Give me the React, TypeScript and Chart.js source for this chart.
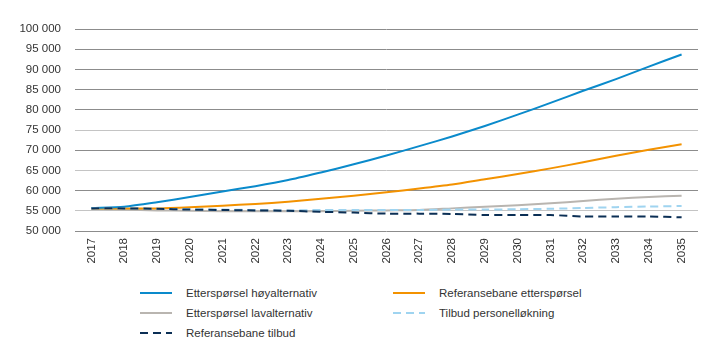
import React, { useEffect, useRef } from "react";
import { Chart, registerables } from "chart.js";

Chart.register(...registerables);

const years = ["2017","2018","2019","2020","2021","2022","2023","2024","2025","2026","2027","2028","2029","2030","2031","2032","2033","2034","2035"];
const hoyalternativ = [55700,56000,57100,58400,59800,61100,62600,64500,66500,68700,71000,73400,76000,78800,81700,84700,87600,90700,93700];
const referanseEttersporsel = [55600,55600,55600,55870,56260,56700,57250,58000,58700,59600,60500,61500,62800,64100,65500,67000,68600,70100,71500];
const lavalternativ = [55500,55300,55100,55000,54900,54900,54900,54900,55000,55100,55200,55600,56000,56400,56850,57400,58000,58400,58750];
const tilbudPersonell = [55600,55600,55500,55400,55300,55200,55100,55200,55200,55200,55200,55300,55300,55400,55500,55700,55900,56050,56200];
const referanseTilbud = [55600,55600,55500,55300,55200,55100,55000,54750,54550,54300,54300,54200,53950,53950,53950,53600,53600,53600,53400];
const yTicks = [50000,55000,60000,65000,70000,75000,80000,85000,90000,95000,100000];

const FONT = "'Liberation Sans', Arial, sans-serif";
const TEXT = "#333333";

const series = [
  { label: "Etterspørsel høyalternativ", data: hoyalternativ, color: "#0a8acb", dash: [] as number[], order: 2 },
  { label: "Referansebane etterspørsel", data: referanseEttersporsel, color: "#f39200", dash: [] as number[], order: 3 },
  { label: "Etterspørsel lavalternativ", data: lavalternativ, color: "#b9b5b0", dash: [] as number[], order: 4 },
  { label: "Tilbud personelløkning", data: tilbudPersonell, color: "#9fd4f0", dash: [8, 5], order: 1 },
  { label: "Referansebane tilbud", data: referanseTilbud, color: "#0b2f55", dash: [8, 5], order: 0 },
];

const fmt = (v: number) => {
  const s = String(Math.round(v));
  return s.replace(/\B(?=(\d{3})+(?!\d))/g, " ");
};

function LegendItem({ s, left, top }: { s: typeof series[number]; left: number; top: number }) {
  const dashed = s.dash.length > 0;
  return (
    <div style={{ position: "absolute", left, top, display: "flex", alignItems: "center", height: 16 }}>
      <div
        style={{
          width: 32,
          height: 2,
          background: dashed
            ? `repeating-linear-gradient(to right, ${s.color} 0 8px, transparent 8px 13px)`
            : s.color,
        }}
      />
      <span style={{ marginLeft: 14, fontFamily: FONT, fontSize: 11.5, color: TEXT, whiteSpace: "nowrap" }}>{s.label}</span>
    </div>
  );
}

export default function App() {
  const ref = useRef<HTMLCanvasElement | null>(null);

  useEffect(() => {
    if (!ref.current) return;
    const chart = new Chart(ref.current, {
      type: "line",
      data: {
        labels: years,
        datasets: series.map((s) => ({
          label: s.label,
          data: s.data,
          borderColor: s.color,
          backgroundColor: s.color,
          borderWidth: 2,
          borderDash: s.dash,
          pointRadius: 0,
          tension: 0.25,
          fill: false,
          order: s.order,
        })),
      },
      options: {
        animation: false,
        responsive: false,
        maintainAspectRatio: false,
        layout: { padding: { top: 29, right: 21, left: 0, bottom: 0 } },
        plugins: { legend: { display: false }, tooltip: { enabled: false } },
        scales: {
          x: {
            offset: true,
            grid: { display: false, drawTicks: false },
            border: { display: false },
            ticks: {
              padding: 7,
              minRotation: 90,
              maxRotation: 90,
              autoSkip: false,
              color: TEXT,
              font: { family: FONT, size: 11.5 },
            },
            afterFit: (s: any) => { s.height = 39; },
          },
          y: {
            min: 50000,
            max: 100000,
            afterBuildTicks: (s: any) => { s.ticks = yTicks.map((v) => ({ value: v })); },
            grid: {
              drawTicks: false,
              lineWidth: 1,
              color: (ctx: any) => {
                const v = ctx.tick ? ctx.tick.value : 0;
                return v === 55000 || v === 65000 || v === 75000 ? "#c4c4c4" : "#8c8c8c";
              },
            },
            border: { display: false },
            ticks: {
              padding: 14,
              color: TEXT,
              font: { family: FONT, size: 11.5 },
              callback: (v: any) => fmt(Number(v)),
            },
            afterFit: (s: any) => { s.width = 75; },
          },
        },
      },
    });
    return () => chart.destroy();
  }, []);

  return (
    <div style={{ position: "fixed", left: 0, top: 0, width: 719, height: 362, background: "#fff" }}>
      <canvas ref={ref} width={719} height={270} style={{ position: "absolute", left: 0, top: 0, width: 719, height: 270 }} />
      <LegendItem s={series[0]} left={140} top={285} />
      <LegendItem s={series[1]} left={393} top={285} />
      <LegendItem s={series[2]} left={140} top={305} />
      <LegendItem s={series[3]} left={393} top={305} />
      <LegendItem s={series[4]} left={140} top={325} />
    </div>
  );
}
